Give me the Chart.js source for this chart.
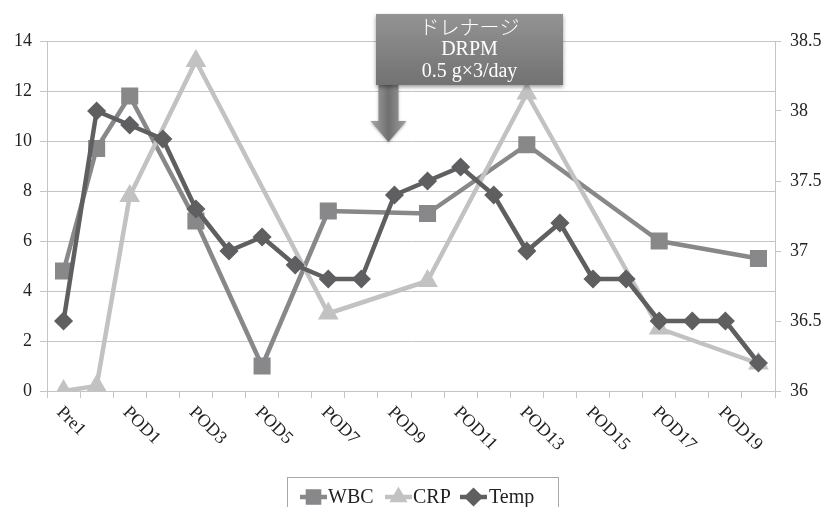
<!DOCTYPE html>
<html>
<head>
<meta charset="utf-8">
<script src="https://cdn.jsdelivr.net/npm/chart.js@4"></script>
<style>
html,body{margin:0;padding:0;background:#fff;}
#wrap{width:826px;height:507px;}
</style>
</head>
<body>
<div id="wrap"><canvas id="c" width="826" height="507"></canvas></div>
<script>
// ---- data ----
const categories = ['Pre1','POD0','POD1','POD2','POD3','POD4','POD5','POD6','POD7','POD8','POD9','POD10',
                    'POD11','POD12','POD13','POD14','POD15','POD16','POD17','POD18','POD19','POD20'];
const wbc  = [4.8, 9.7, 11.8, null, 6.8, null, 1.0, null, 7.2, null, null, 7.1, null, null, 9.85, null, null, null, 6.0, null, null, 5.3];
const crp  = [0, 0.2, 7.8, null, 13.2, null, null, null, 3.1, null, null, 4.4, null, null, 11.9, null, null, null, 2.5, null, null, 1.1];
const temp = [36.5, 38.0, 37.9, 37.8, 37.3, 37.0, 37.1, 36.9, 36.8, 36.8, 37.4, 37.5, 37.6, 37.4, 37.0, 37.2, 36.8, 36.8, 36.5, 36.5, 36.5, 36.2];
const leftTicks  = [0, 2, 4, 6, 8, 10, 12, 14];
const rightTicks = [36, 36.5, 37, 37.5, 38, 38.5];
const seriesNames = ['WBC', 'CRP', 'Temp'];
const annotationLines = ['ドレナージ', 'DRPM', '0.5 g×3/day'];

// ---- styles ----
const COL_WBC = '#88888a', COL_CRP = '#c2c2c2', COL_TEMP = '#5f5f61';
const GRID = '#c4c4c4';
const SERIF = '"Liberation Serif", "Times New Roman", serif';

function drawMarker(ctx, style, x, y, r, color, bw) {
  ctx.save();
  ctx.fillStyle = color; ctx.strokeStyle = color; ctx.lineWidth = bw;
  ctx.beginPath();
  if (style === 'rect') {
    const s = Math.SQRT1_2 * r;
    ctx.rect(x - s, y - s, 2 * s, 2 * s);
  } else if (style === 'rectRot') {
    ctx.moveTo(x - r, y); ctx.lineTo(x, y - r); ctx.lineTo(x + r, y); ctx.lineTo(x, y + r); ctx.closePath();
  } else {
    for (let k = 0; k < 3; k++) {
      const a = k * 2 * Math.PI / 3;
      const px = x + Math.sin(a) * r, py = y - Math.cos(a) * r;
      if (k === 0) ctx.moveTo(px, py); else ctx.lineTo(px, py);
    }
    ctx.closePath();
  }
  ctx.fill(); ctx.stroke();
  ctx.restore();
}

const extras = {
  id: 'extras',
  afterDatasetsDraw(chart) {
    const ctx = chart.ctx;
    const xs = chart.scales.x;
    // arrow (anchored near POD9)
    const ax = xs.getPixelForValue(10) - 6;
    ctx.save();
    const g = ctx.createLinearGradient(ax - 18, 0, ax + 18, 0);
    g.addColorStop(0, '#a8a8a8'); g.addColorStop(0.5, '#707070'); g.addColorStop(1, '#a0a0a0');
    ctx.fillStyle = g;
    ctx.shadowColor = 'rgba(0,0,0,0.3)'; ctx.shadowBlur = 3; ctx.shadowOffsetY = 1;
    ctx.beginPath();
    ctx.moveTo(ax - 10, 85); ctx.lineTo(ax + 10, 85); ctx.lineTo(ax + 10, 121);
    ctx.lineTo(ax + 18, 121); ctx.lineTo(ax, 142); ctx.lineTo(ax - 18, 121);
    ctx.lineTo(ax - 10, 121); ctx.closePath();
    ctx.fill();
    ctx.restore();
    // box
    const bx = 376, by = 14, bw = 187, bh = 71;
    ctx.save();
    ctx.shadowColor = 'rgba(0,0,0,0.4)'; ctx.shadowBlur = 4; ctx.shadowOffsetY = 2;
    const g2 = ctx.createLinearGradient(0, by, 0, by + bh);
    g2.addColorStop(0, '#939393'); g2.addColorStop(1, '#727272');
    ctx.fillStyle = g2;
    ctx.fillRect(bx, by, bw, bh);
    ctx.restore();
    ctx.save();
    ctx.fillStyle = '#ffffff';
    ctx.textAlign = 'center'; ctx.textBaseline = 'middle';
    ctx.font = '300 20px "Noto Sans CJK JP", sans-serif';
    ctx.fillText(annotationLines[0], bx + bw / 2, 27);
    ctx.font = '20px ' + SERIF;
    ctx.fillText(annotationLines[1], bx + bw / 2, 50);
    ctx.fillText(annotationLines[2], bx + bw / 2, 72);
    ctx.restore();
  },
  afterDraw(chart) {
    const ctx = chart.ctx;
    const xs = chart.scales.x;
    // rotated category labels
    ctx.save();
    ctx.fillStyle = '#222';
    ctx.font = '18px ' + SERIF;
    ctx.textAlign = 'left'; ctx.textBaseline = 'alphabetic';
    categories.forEach((lab, i) => {
      if (i % 2 !== 0) return;
      const cx = xs.getPixelForValue(i);
      ctx.save();
      ctx.translate(cx - 7.5, 413);
      ctx.rotate(Math.PI / 4);
      ctx.fillText(lab, 0, 0);
      ctx.restore();
    });
    ctx.restore();
    // legend
    ctx.save();
    ctx.strokeStyle = '#a8a8a8'; ctx.lineWidth = 1;
    ctx.strokeRect(287.5, 477.5, 271, 40);
    const items = [
      {name: seriesNames[0], col: COL_WBC, st: 'rect', r: 10, x0: 300, tx: 328},
      {name: seriesNames[1], col: COL_CRP, st: 'triangle', r: 9, x0: 385, tx: 413},
      {name: seriesNames[2], col: COL_TEMP, st: 'rectRot', r: 8.5, x0: 460, tx: 489}
    ];
    const ly = 497;
    ctx.font = '20px ' + SERIF;
    ctx.textBaseline = 'middle'; ctx.textAlign = 'left';
    items.forEach(it => {
      ctx.strokeStyle = it.col; ctx.lineWidth = 4.5;
      ctx.beginPath(); ctx.moveTo(it.x0, ly); ctx.lineTo(it.x0 + 27, ly); ctx.stroke();
      drawMarker(ctx, it.st, it.x0 + 13.5, ly, it.r, it.col, 1.5);
      ctx.fillStyle = '#222';
      ctx.fillText(it.name, it.tx, ly + 1);
    });
    ctx.restore();
  }
};

new Chart(document.getElementById('c'), {
  type: 'line',
  data: {
    labels: categories,
    datasets: [
      {label: seriesNames[0], data: wbc, yAxisID: 'y', order: 3, spanGaps: true,
       borderColor: COL_WBC, backgroundColor: COL_WBC, borderWidth: 4.5,
       pointStyle: 'rect', pointRadius: 11, pointBorderWidth: 1.5, pointBackgroundColor: COL_WBC, pointBorderColor: COL_WBC},
      {label: seriesNames[1], data: crp, yAxisID: 'y', order: 2, spanGaps: true,
       borderColor: COL_CRP, backgroundColor: COL_CRP, borderWidth: 4.5,
       pointStyle: 'triangle', pointRadius: 10, pointBorderWidth: 2, pointBackgroundColor: COL_CRP, pointBorderColor: COL_CRP},
      {label: seriesNames[2], data: temp, yAxisID: 'y1', order: 1, spanGaps: true,
       borderColor: COL_TEMP, backgroundColor: COL_TEMP, borderWidth: 4.5,
       pointStyle: 'rectRot', pointRadius: 8.5, pointBorderWidth: 1.5, pointBackgroundColor: COL_TEMP, pointBorderColor: COL_TEMP}
    ]
  },
  options: {
    responsive: false,
    animation: false,
    devicePixelRatio: 1,
    layout: {padding: {top: 41, left: 0, right: 0, bottom: 0}},
    plugins: {legend: {display: false}, tooltip: {enabled: false}},
    elements: {line: {tension: 0, borderJoinStyle: 'round'}},
    scales: {
      x: {
        type: 'category', offset: true,
        grid: {display: true, drawOnChartArea: false, drawTicks: true, tickLength: 7, offset: true, color: GRID},
        border: {display: true, color: GRID},
        ticks: {display: false},
        afterFit(s) { s.height = 116; }
      },
      y: {
        position: 'left', min: 0, max: 14,
        afterBuildTicks(s) { s.ticks = leftTicks.map(v => ({value: v})); },
        grid: {display: true, drawOnChartArea: true, drawTicks: true, tickLength: 7, color: GRID},
        border: {display: true, color: GRID},
        ticks: {padding: 8, color: '#222', font: {family: SERIF, size: 18}},
        afterFit(s) { s.width = 47; }
      },
      y1: {
        position: 'right', min: 36, max: 38.5,
        afterBuildTicks(s) { s.ticks = rightTicks.map(v => ({value: v})); },
        grid: {display: true, drawOnChartArea: false, drawTicks: true, tickLength: 6, color: GRID},
        border: {display: true, color: GRID},
        ticks: {padding: 9, color: '#222', font: {family: SERIF, size: 18}, callback: v => String(v)},
        afterFit(s) { s.width = 51; }
      }
    }
  },
  plugins: [extras]
});
</script>
</body>
</html>
